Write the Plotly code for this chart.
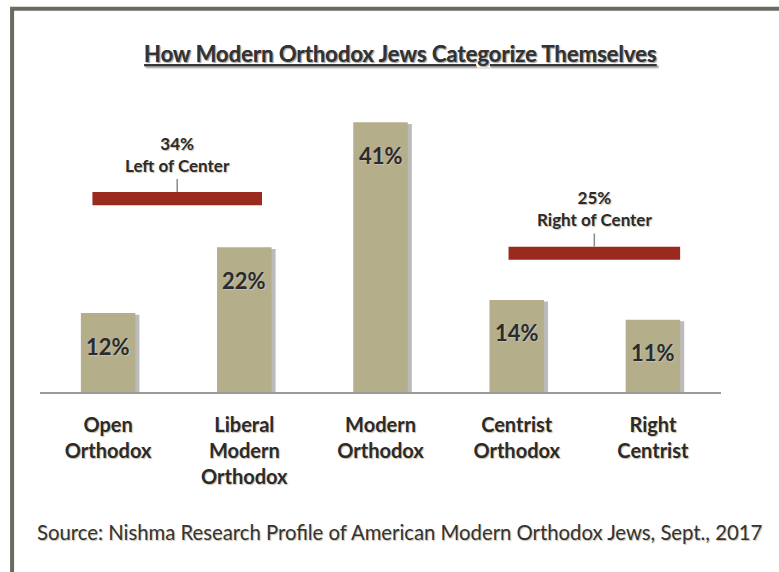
import plotly.graph_objects as go

categories = ['Open<br>Orthodox', 'Liberal<br>Modern<br>Orthodox', 'Modern<br>Orthodox',
              'Centrist<br>Orthodox', 'Right<br>Centrist']
values = [12, 22, 41, 14, 11]

# groups drawn as red brackets above bars
group_pct = ['34%', '25%']
group_names = ['Left of Center', 'Right of Center']
group_first = [0, 3]
group_last = [1, 4]
group_pad_l = [0.115, 0.06]
group_pad_r = [0.13, 0.2]
group_level = [29.4, 21.1]   # y (in %) of the bracket

bar_color = '#B4AE8B'
red = '#9A2A1E'
txt = '#2b2b2b'
font = 'Lato'
shadow = '1px 1px 1px #c8c0b0'

x = list(range(len(categories)))

fig = go.Figure()

# soft shadow behind the bars
fig.add_trace(go.Bar(x=x, y=[v - 0.25 for v in values], width=0.4, offset=-0.17,
                     marker=dict(color='rgba(60,60,60,0.35)', line_width=0),
                     hoverinfo='skip', showlegend=False))
fig.add_trace(go.Bar(x=x, y=values, width=0.4, offset=-0.2,
                     marker=dict(color=bar_color, line_width=0),
                     showlegend=False))

# value labels inside bars
for i, v in enumerate(values):
    fig.add_annotation(x=i, y=v, text='<b>%d%%</b>' % v, showarrow=False,
                       yshift=-33, font=dict(family=font, size=22, color=txt, shadow=shadow))

# brackets
for p, n, a, b, pl, pr, lv in zip(group_pct, group_names, group_first, group_last,
                                  group_pad_l, group_pad_r, group_level):
    x0, x1 = a - pl, b + pr
    xm = (x0 + x1) / 2
    fig.add_shape(type='rect', x0=x0, x1=x1, y0=lv - 1.0, y1=lv + 1.0,
                  fillcolor=red, line_width=0, layer='above')
    fig.add_shape(type='line', x0=xm, x1=xm, y0=lv + 1.0, y1=lv + 3.0,
                  line=dict(color='#8a8a8a', width=1.5))
    fig.add_annotation(x=xm, y=lv + 3.0, text='<b>%s</b><br><b>%s</b>' % (p, n),
                       showarrow=False, yanchor='bottom', yshift=1,
                       font=dict(family=font, size=17, color=txt, shadow=shadow))

# frame around the chart (left + top edges visible)
fig.add_shape(type='rect', xref='paper', yref='paper',
              x0=-0.041, x1=1.2, y0=-1.0, y1=1.295,
              line=dict(color='#6a6a62', width=4), layer='below')

fig.update_layout(
    width=779, height=572,
    margin=dict(l=40, r=58, t=96, b=180),
    paper_bgcolor='white', plot_bgcolor='white',
    barmode='overlay',
    title=dict(text='<b><u>How Modern Orthodox Jews Categorize Themselves</u></b>',
               x=0.514, xanchor='center', y=0.905, yanchor='middle',
               font=dict(family=font, size=22, color='#333333', shadow='1px 1px 1px #b0b0b0')),
    xaxis=dict(tickmode='array', tickvals=x, ticktext=['<b>%s</b>' % c for c in categories],
               range=[-0.5, 4.5], showline=True, linecolor='#9a9a9a', linewidth=2,
               ticks='', showgrid=False, zeroline=False, ticklabelstandoff=14,
               tickfont=dict(family=font, size=20, color=txt, shadow=shadow)),
    yaxis=dict(range=[0, 45], visible=False),
    font=dict(family=font),
)

# boundary ticks on the axis
for k in range(len(categories) + 1):
    fig.add_shape(type='line', x0=k - 0.5, x1=k - 0.5, y0=0, y1=-0.8,
                  line=dict(color='#9a9a9a', width=2))

fig.add_annotation(xref='paper', yref='paper', x=0.5286, y=-0.473,
                   xanchor='center', yanchor='middle',
                   text='Source: Nishma Research Profile of American Modern Orthodox Jews, Sept., 2017',
                   showarrow=False,
                   font=dict(family=font, size=20.3, color='#333333', shadow=shadow))

fig.write_html('out.html', config={'displayModeBar': False},
               post_script="document.body.style.margin='0px';")
